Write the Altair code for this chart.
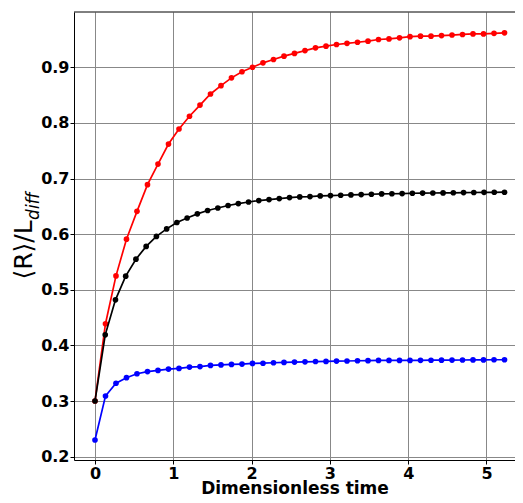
import altair as alt
import pandas as pd

# time grids (uniform sampling)
t_red_blue = [round(k * 5.23 / 39, 4) for k in range(40)]
t_black = [round(k * 5.23 / 40, 4) for k in range(41)]

red = [0.300, 0.439, 0.525, 0.591, 0.641, 0.689, 0.726, 0.762, 0.789, 0.812,
       0.832, 0.852, 0.867, 0.881, 0.892, 0.900, 0.908, 0.914, 0.920, 0.925,
       0.930, 0.935, 0.938, 0.941, 0.943, 0.945, 0.947, 0.950, 0.951, 0.953,
       0.955, 0.956, 0.956, 0.957, 0.958, 0.959, 0.960, 0.960, 0.961, 0.962]

black = [0.300, 0.419, 0.482, 0.5245, 0.555, 0.578, 0.596, 0.6095, 0.621, 0.629,
         0.6365, 0.6425, 0.647, 0.6515, 0.655, 0.6578, 0.6604, 0.6622, 0.664, 0.6658,
         0.667, 0.6676, 0.6688, 0.6694, 0.670, 0.6706, 0.6712, 0.6718, 0.6724, 0.6727,
         0.673, 0.6736, 0.6738, 0.674, 0.6742, 0.6744, 0.6748, 0.6749, 0.6752, 0.6753,
         0.6754]

blue = [0.230, 0.309, 0.332, 0.342, 0.349, 0.353, 0.355, 0.3575, 0.3586, 0.361,
        0.362, 0.364, 0.365, 0.3658, 0.3665, 0.3676, 0.368, 0.3688, 0.3695, 0.370,
        0.3705, 0.371, 0.3712, 0.3718, 0.372, 0.3724, 0.3726, 0.373, 0.373, 0.373,
        0.373, 0.3732, 0.3734, 0.3735, 0.3736, 0.3738, 0.374, 0.374, 0.3742, 0.3742]

x_ticks = [0, 1, 2, 3, 4, 5]
y_ticks = [0.2, 0.3, 0.4, 0.5, 0.6, 0.7, 0.8, 0.9]

x_dom = [-0.268, 5.364]
y_dom = [0.194, 0.9994]

W, H = 441, 448

x_enc = alt.X("t:Q", scale=alt.Scale(domain=x_dom, nice=False, zero=False),
              axis=alt.Axis(values=x_ticks, format="d", title="Dimensionless time",
                            titleBaseline="alphabetic", titleY=33.5))
y_enc = alt.Y("v:Q", scale=alt.Scale(domain=y_dom, nice=False, zero=False),
              axis=alt.Axis(values=y_ticks, format=".1f", title=None))


def series(ts, vs, color):
    df = pd.DataFrame({"t": ts, "v": vs})
    base = alt.Chart(df).encode(x=x_enc, y=y_enc)
    line = base.mark_line(color=color, strokeWidth=1.7)
    pts = base.mark_circle(color=color, size=32, opacity=1)
    return line + pts


one = pd.DataFrame({"a": [1]})
main_title = alt.Chart(one).mark_text(
    text="⟨R⟩/L", font="DejaVu Sans", fontSize=25, angle=270,
    align="center", baseline="middle", color="black"
).encode(x=alt.value(-50), y=alt.value(238))
sub_title = alt.Chart(one).mark_text(
    text="diff", font="DejaVu Sans", fontSize=17, fontStyle="italic", angle=270,
    align="center", baseline="middle", color="black"
).encode(x=alt.value(-40), y=alt.value(194))
top_spine = alt.Chart(one).mark_rule(color="black", strokeWidth=1).encode(
    x=alt.value(0), x2=alt.value(W), y=alt.value(0)
)

chart = alt.layer(
    series(t_red_blue, red, "#ff0000"),
    series(t_black, black, "#000000"),
    series(t_red_blue, blue, "#0000ff"),
    main_title,
    sub_title,
    top_spine,
).properties(
    width=W, height=H,
    autosize="none",
    padding={"left": 66, "top": 4, "right": 0, "bottom": 35},
).configure_axis(
    labelFont="DejaVu Sans", labelFontWeight="bold", labelFontSize=16,
    labelColor="black", tickColor="black", tickSize=4, tickWidth=1,
    domainColor="black", domainWidth=1,
    gridColor="#888888", gridWidth=1, gridOpacity=1,
    titleFont="DejaVu Sans", titleFontWeight="bold", titleFontSize=17,
    titleColor="black", labelPadding=1,
).configure_view(
    stroke=None,
)

chart.save("out.html", embed_options={"renderer": "svg", "actions": False})
